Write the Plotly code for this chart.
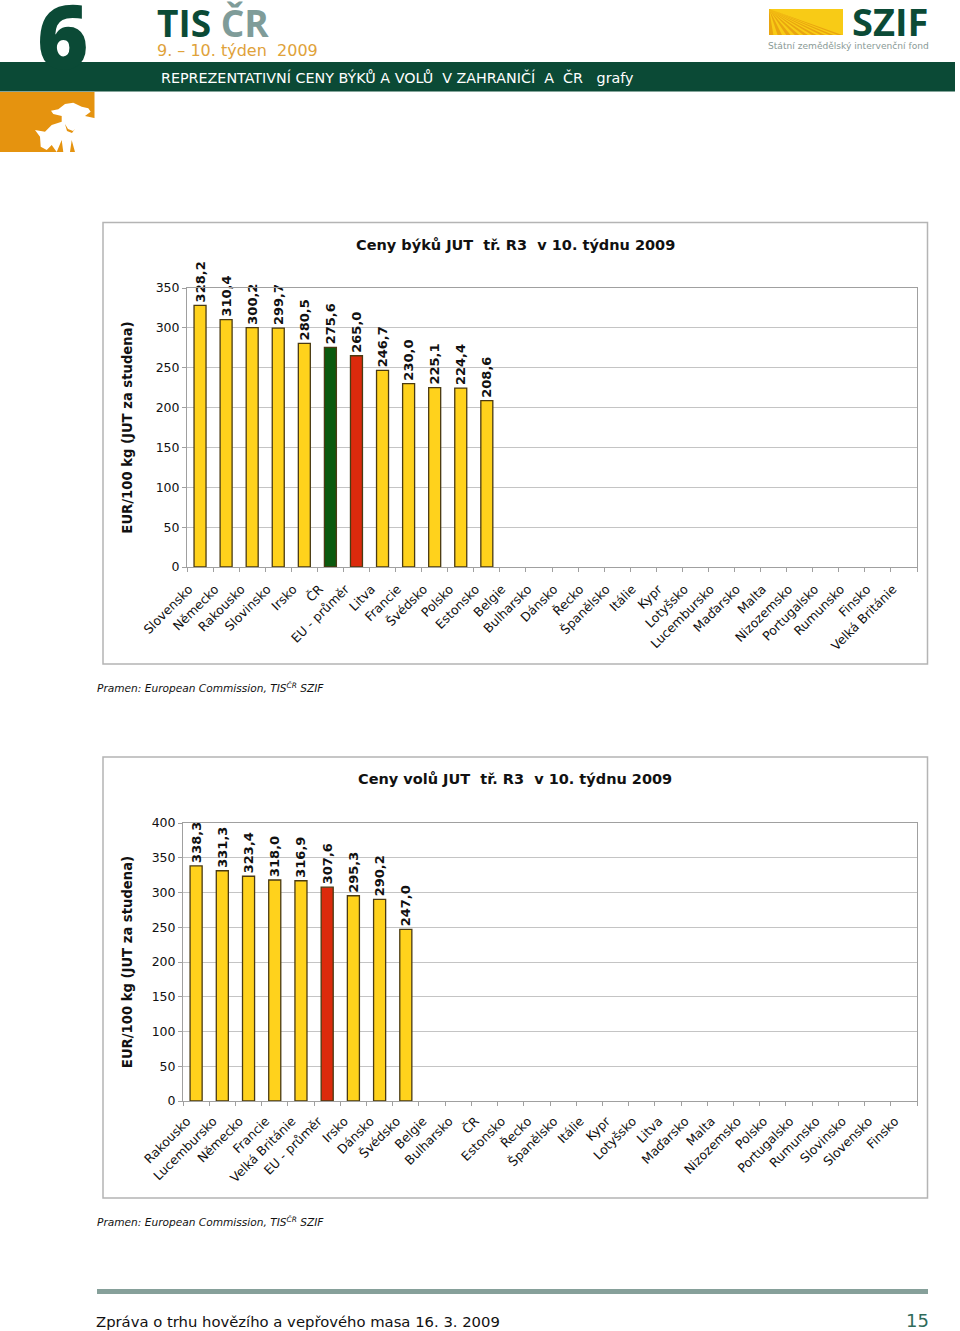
import plotly.graph_objects as go

W = 960
H = 1331

# ceny byku
bulls_countries = ['Slovensko', 'Německo', 'Rakousko', 'Slovinsko', 'Irsko', 'ČR', 'EU - průměr', 'Litva',
                   'Francie', 'Švédsko', 'Polsko', 'Estonsko', 'Belgie', 'Bulharsko', 'Dánsko', 'Řecko',
                   'Španělsko', 'Itálie', 'Kypr', 'Lotyšsko', 'Lucembursko', 'Maďarsko', 'Malta', 'Nizozemsko',
                   'Portugalsko', 'Rumunsko', 'Finsko', 'Velká Británie']
bulls_prices = [328.2, 310.4, 300.2, 299.7, 280.5, 275.6, 265.0, 246.7, 230.0, 225.1, 224.4, 208.6]

# ceny volu
steers_countries = ['Rakousko', 'Lucembursko', 'Německo', 'Francie', 'Velká Británie', 'EU - průměr', 'Irsko',
                    'Dánsko', 'Švédsko', 'Belgie', 'Bulharsko', 'ČR', 'Estonsko', 'Řecko', 'Španělsko', 'Itálie',
                    'Kypr', 'Lotyšsko', 'Litva', 'Maďarsko', 'Malta', 'Nizozemsko', 'Polsko', 'Portugalsko',
                    'Rumunsko', 'Slovinsko', 'Slovensko', 'Finsko']
steers_prices = [338.3, 331.3, 323.4, 318.0, 316.9, 307.6, 295.3, 290.2, 247.0]

YELLOW = '#FFD21C'
GREEN = '#0B5A0E'
RED = '#DC2A0C'
DARK = '#0B4A36'
GREY = '#B4B4B4'
ORANGE = '#E5930F'
FONT = 'DejaVu Sans'


def px_x(x):
    return x / W


def px_y(y):
    return 1 - y / H


def bar_colors(countries):
    colors = []
    for c in countries:
        if c == 'ČR':
            colors.append(GREEN)
        elif c == 'EU - průměr':
            colors.append(RED)
        else:
            colors.append(YELLOW)
    return colors


def add_chart(fig, n, countries, prices, left, top, bottom, ymax, standoff, shift, label_gap):
    fig.add_trace(go.Bar(
        x=countries[:len(prices)], y=prices,
        text=[f'{p:.1f}'.replace('.', ',') for p in prices],
        textposition='outside', textangle=-90, cliponaxis=False, constraintext='none',
        textfont=dict(family=FONT, size=13, color='#111111', weight='bold'),
        marker=dict(color=bar_colors(countries[:len(prices)]), line=dict(color='#4A3A12', width=1.3)),
        width=0.46, xaxis=f'x{n}', yaxis=f'y{n}', showlegend=False,
    ))
    axis = dict(showline=True, linecolor='#A0A0A0', linewidth=1, mirror=True, ticks='outside', automargin=False,
                ticklen=4, tickcolor='#A0A0A0', tickfont=dict(family=FONT, size=12.5, color='#111111'))
    fig.layout[f'xaxis{n}'] = dict(
        axis, domain=[px_x(left), px_x(917)], anchor=f'y{n}', type='category',
        categoryorder='array', categoryarray=countries, range=[-0.5, len(countries) - 0.5],
        tickmode='array', tickvals=countries, ticktext=countries,
        tickangle=-45, tickson='boundaries', showgrid=False,
        ticklabelshift=shift, ticklabelstandoff=label_gap)
    fig.layout[f'yaxis{n}'] = dict(
        axis, domain=[px_y(bottom), px_y(top)], anchor=f'x{n}', range=[0, ymax], dtick=50,
        showgrid=True, gridcolor='#C4C4C4', gridwidth=1, zeroline=False,
        title=dict(text='EUR/100 kg (JUT za studena)', standoff=standoff,
                   font=dict(family=FONT, size=13.2, color='#111111', weight='bold')))


def label(x, y, text, size, color='#111111', xanchor='left', yanchor='middle', family=FONT, **kw):
    return dict(x=px_x(x), y=px_y(y), xref='paper', yref='paper', text=text, showarrow=False, xanchor=xanchor,
                yanchor=yanchor, align='left', font=dict(family=family, size=size, color=color, **kw))


def rect(x0, y0, x1, y1, fill=None, line=None, width=1.5):
    return dict(type='rect', xref='paper', yref='paper', x0=px_x(x0), x1=px_x(x1), y0=px_y(y0), y1=px_y(y1),
                fillcolor=fill or 'rgba(0,0,0,0)', line=dict(color=line or 'rgba(0,0,0,0)', width=width if line else 0),
                layer='below')


def path(points, fill):
    d = 'M ' + ' L '.join(f'{px_x(x):.5f} {px_y(y):.5f}' for x, y in points) + ' Z'
    return dict(type='path', xref='paper', yref='paper', path=d, fillcolor=fill, line=dict(width=0), layer='below')


fig = go.Figure()
add_chart(fig, 1, bulls_countries, bulls_prices, 187, 288, 567, 350, 20, -11, 9)
add_chart(fig, 2, steers_countries, steers_prices, 183, 823, 1101, 400, 16, -9, 7)

shapes = [
    rect(0, 62, 955, 91.5, fill=DARK),
    rect(0, 92, 94.5, 152, fill=ORANGE),
    rect(103, 222.5, 927.5, 664, line=GREY),
    rect(103, 757, 927.5, 1198, line=GREY),
    rect(97, 1289, 928, 1294, fill='#86A09A'),
    rect(769, 9, 843, 35, fill='#F8CB16'),
    # krava a prase na oranzovem poli
    path([(51, 110.7), (58.3, 109.3), (65, 104), (73.3, 102.7), (81.7, 106.7), (88.3, 108.3), (90.7, 111.7),
          (85, 116), (95.3, 118.3), (95.3, 152), (75, 152), (71.7, 140), (70, 152), (63.3, 152), (61.7, 140),
          (56.7, 152), (51.7, 145), (46.7, 150), (40.7, 146.7), (40, 136.7), (35, 130), (45, 131.7),
          (51.7, 125), (61.7, 121.7), (61.7, 116), (53.3, 114)], 'white'),
    path([(65, 124), (67, 131), (72, 133), (75, 129), (73, 131), (68, 129)], ORANGE),
]
# brazdy v logu SZIF, sbihaji se v levem hornim rohu
for i in range(9):
    shapes.append(path([(769, 9), (769 + i * 8.6, 35), (769 + i * 8.6 + 4.4, 35)], '#E9A510'))

annotations = [
    label(35, 34.5, '6', 88, color=DARK, family='Open Sans', weight=800),
    label(155, 23, '<b>TIS <span style="color:#7F9C99">ČR</span></b>', 37, color=DARK, family='Open Sans'),
    label(155, 50.5, '9. – 10. týden  2009', 16, color='#E0A23A'),
    label(159, 77, 'REPREZENTATIVNÍ CENY BÝKŮ A VOLŮ  V ZAHRANIČÍ  A  ČR   grafy', 14.3, color='white'),
    label(850, 21.5, '<b>SZIF</b>', 38, color=DARK, family='Open Sans'),
    label(766, 46.5, 'Státní zemědělský intervenční fond', 9.1, color='#8A9A96'),
    label(515, 245, '<b>Ceny býků JUT  tř. R3  v 10. týdnu 2009</b>', 14.5, xanchor='center'),
    label(515, 779, '<b>Ceny volů JUT  tř. R3  v 10. týdnu 2009</b>', 14.5, xanchor='center'),
    label(95, 687, '<i>Pramen: European Commission, TIS<sup>ČR</sup> SZIF</i>', 10.6),
    label(95, 1221, '<i>Pramen: European Commission, TIS<sup>ČR</sup> SZIF</i>', 10.6),
    label(94, 1321, 'Zpráva o trhu hovězího a vepřového masa 16. 3. 2009', 14.8),
    label(931, 1320, '15', 18, color='#2F6B5A', xanchor='right'),
]

fig.update_layout(width=W, height=H, margin=dict(l=0, r=0, t=0, b=0, autoexpand=False), paper_bgcolor='white',
                  plot_bgcolor='white', shapes=shapes, annotations=annotations, bargap=0.5)
fig.write_html('out.html', config={'displayModeBar': False}, post_script="document.body.style.margin='0';")
